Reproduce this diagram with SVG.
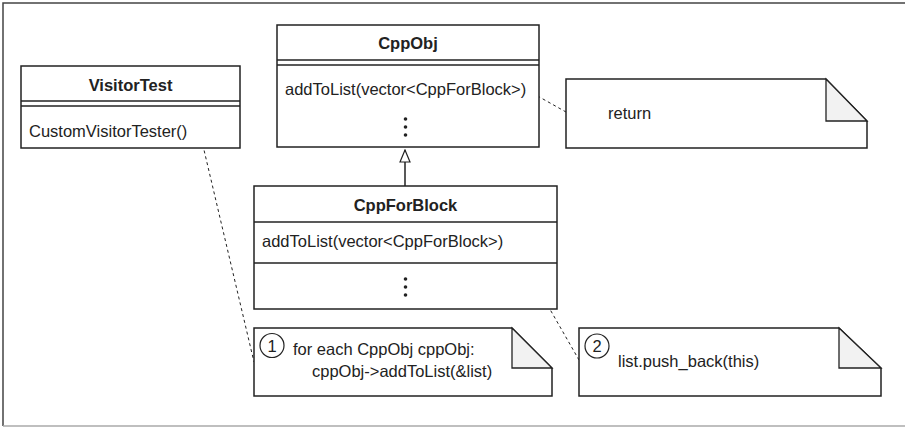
<svg xmlns="http://www.w3.org/2000/svg" width="905" height="427" viewBox="0 0 905 427">
  <style>
    .box { fill: #fff; stroke: #222; stroke-width: 1.5; }
    .sep { stroke: #222; stroke-width: 1.3; fill: none; }
    .title { font-family: "Liberation Sans", Arial, sans-serif; font-size: 16.5px; font-weight: bold; fill: #222; text-anchor: middle; }
    .txt { font-family: "Liberation Sans", Arial, sans-serif; font-size: 16.5px; fill: #222; }
    .fold { fill: #f2f2f2; stroke: #222; stroke-width: 1.3; }
    .dash { stroke: #222; stroke-width: 1; stroke-dasharray: 3 3; fill: none; }
    .dot { fill: #222; }
    .num { fill: #fff; stroke: #222; stroke-width: 1.2; }
  </style>
  <defs>
    <marker id="inherit" markerWidth="14" markerHeight="12" refX="13" refY="6" orient="auto" markerUnits="userSpaceOnUse">
      <path d="M1,1 L13,6 L1,11 Z" fill="#fff" stroke="#222" stroke-width="1.2"/>
    </marker>
  </defs>

  <!-- frame -->
  <path d="M3,426 L3,3 L905,3" fill="none" stroke="#444" stroke-width="1.5"/>
  <line x1="3" y1="426" x2="905" y2="426" stroke="#aaa" stroke-width="1.5"/>

  <!-- connectors -->
  <g id="connectors">
    <line class="dash" x1="527" y1="90" x2="566" y2="112"/>
    <line class="dash" x1="200" y1="133" x2="254" y2="362"/>
    <line class="dash" x1="512" y1="243" x2="579" y2="360"/>
    <line x1="405" y1="186" x2="405" y2="150" stroke="#222" stroke-width="1.5" marker-end="url(#inherit)"/>
  </g>

  <g id="VisitorTest">
    <rect class="box" x="21" y="66" width="219" height="82"/>
    <line class="sep" x1="21" y1="101" x2="240" y2="101"/>
    <line class="sep" x1="21" y1="106" x2="240" y2="106"/>
    <text class="title" x="130.5" y="91">VisitorTest</text>
    <text class="txt" x="29" y="137">CustomVisitorTester()</text>
  </g>

  <g id="CppObj">
    <rect class="box" x="277" y="25" width="262" height="122"/>
    <line class="sep" x1="277" y1="60" x2="539" y2="60"/>
    <line class="sep" x1="277" y1="65" x2="539" y2="65"/>
    <text class="title" x="408" y="49">CppObj</text>
    <text class="txt" x="285" y="95">addToList(vector&lt;CppForBlock&gt;)</text>
    <circle class="dot" cx="405.5" cy="119" r="1.8"/>
    <circle class="dot" cx="405.5" cy="127" r="1.8"/>
    <circle class="dot" cx="405.5" cy="135" r="1.8"/>
  </g>

  <g id="CppForBlock">
    <rect class="box" x="254" y="186" width="303" height="123"/>
    <line class="sep" x1="254" y1="222" x2="557" y2="222"/>
    <line class="sep" x1="254" y1="263" x2="557" y2="263"/>
    <text class="title" x="405.5" y="211">CppForBlock</text>
    <text class="txt" x="262" y="247">addToList(vector&lt;CppForBlock&gt;)</text>
    <circle class="dot" cx="405.5" cy="279" r="1.8"/>
    <circle class="dot" cx="405.5" cy="287" r="1.8"/>
    <circle class="dot" cx="405.5" cy="295" r="1.8"/>
  </g>

  <g id="noteReturn">
    <path class="box" d="M566,79 L826,79 L867,121 L867,148 L566,148 Z"/>
    <path class="fold" d="M826,79 L826,121 L867,121 Z"/>
    <text class="txt" x="608" y="119">return</text>
  </g>

  <g id="noteLoop">
    <path class="box" d="M254,328 L512,328 L552,368 L552,396 L254,396 Z"/>
    <path class="fold" d="M512,328 L512,368 L552,368 Z"/>
    <circle class="num" cx="272" cy="345.5" r="12"/>
    <text class="txt" x="272" y="351.5" text-anchor="middle">1</text>
    <text class="txt" x="293" y="355">for each CppObj cppObj:</text>
    <text class="txt" x="312" y="377">cppObj-&gt;addToList(&amp;list)</text>
  </g>

  <g id="notePush">
    <path class="box" d="M579,328 L839,328 L881,368 L881,396 L579,396 Z"/>
    <path class="fold" d="M839,328 L839,368 L881,368 Z"/>
    <circle class="num" cx="597" cy="346" r="12"/>
    <text class="txt" x="597" y="352" text-anchor="middle">2</text>
    <text class="txt" x="618" y="367">list.push_back(this)</text>
  </g>
</svg>
